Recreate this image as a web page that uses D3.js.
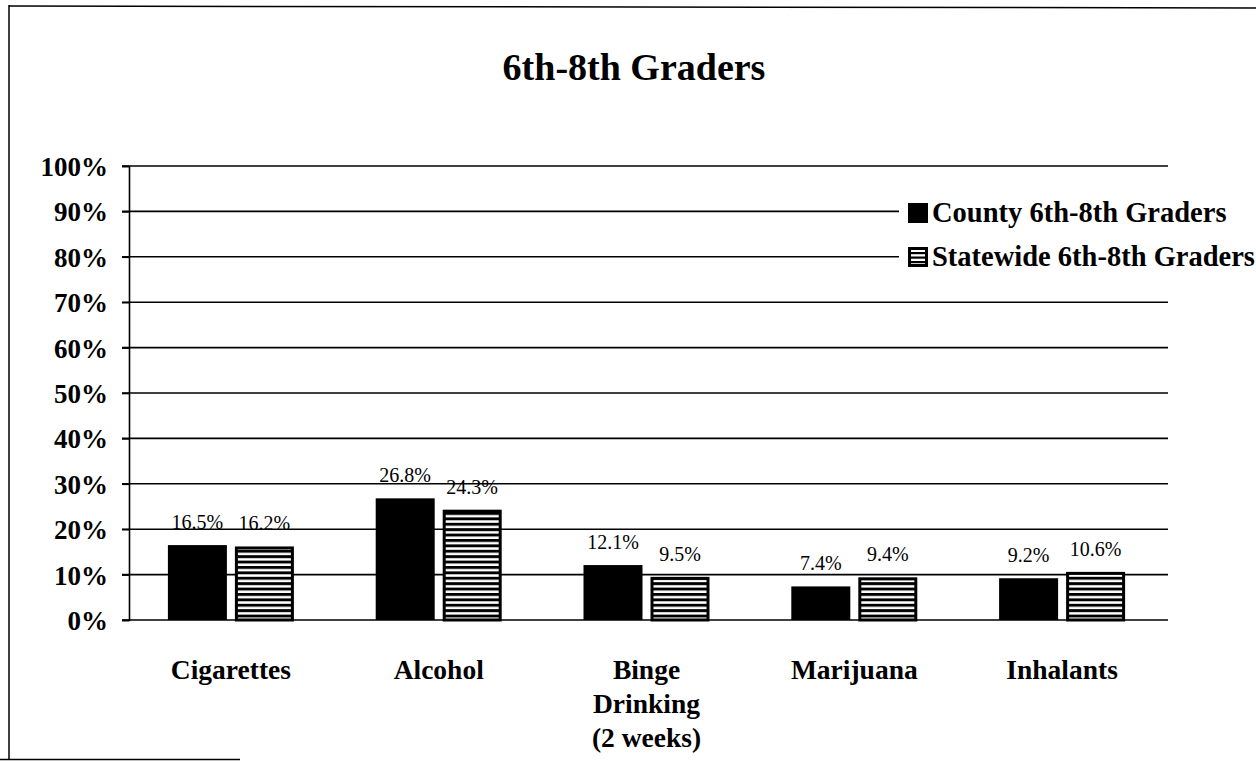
<!DOCTYPE html>
<html>
<head>
<meta charset="utf-8">
<script src="https://cdn.jsdelivr.net/npm/d3@7"></script>
<style>
  html, body { margin: 0; padding: 0; background: #fff; }
  svg { display: block; }
  text { font-family: "Liberation Serif", "Times New Roman", serif; fill: #000; }
</style>
</head>
<body>
<svg id="chart" width="1256" height="761"></svg>
<script>
// Survey results, percent of students reporting use
const categories = ["Cigarettes", "Alcohol", "Binge Drinking (2 weeks)", "Marijuana", "Inhalants"];
const categoryLines = [["Cigarettes"], ["Alcohol"], ["Binge", "Drinking", "(2 weeks)"], ["Marijuana"], ["Inhalants"]];
const seriesNames = ["County 6th-8th Graders", "Statewide 6th-8th Graders"];
const countyValues = [16.5, 26.8, 12.1, 7.4, 9.2];
const statewideValues = [16.2, 24.3, 9.5, 9.4, 10.6];
const yTicks = [0, 10, 20, 30, 40, 50, 60, 70, 80, 90, 100];

const svg = d3.select("#chart");
const W = 1256, H = 761;
const plot = { left: 129, right: 1168, top: 166, bottom: 620 };

// Outer frame (left, top and part of the bottom edge)
svg.append("line").attr("x1", 9).attr("x2", 9).attr("y1", 5).attr("y2", 760)
  .attr("stroke", "#000").attr("stroke-width", 1.5);
svg.append("line").attr("x1", 9).attr("x2", W).attr("y1", 6).attr("y2", 8)
  .attr("stroke", "#000").attr("stroke-width", 1.5);
svg.append("line").attr("x1", 0).attr("x2", 240).attr("y1", 759.5).attr("y2", 759.5)
  .attr("stroke", "#000").attr("stroke-width", 1.5);

// Horizontal stripe fill for the statewide series
const defs = svg.append("defs");
const pat = defs.append("pattern").attr("id", "stripes")
  .attr("patternUnits", "userSpaceOnUse").attr("width", 10).attr("height", 5.4)
  .attr("y", plot.bottom);
pat.append("rect").attr("width", 10).attr("height", 5.4).attr("fill", "#fff");
pat.append("rect").attr("width", 10).attr("height", 2.9).attr("fill", "#000");

const x = d3.scaleBand().domain(categories).range([plot.left, plot.right]).paddingInner(0.4).paddingOuter(0.2);
const y = d3.scaleLinear().domain([0, 100]).range([plot.bottom, plot.top]);

// Gridlines
svg.append("g").selectAll("line").data(yTicks).join("line")
  .attr("x1", plot.left - 7).attr("x2", plot.right)
  .attr("y1", d => y(d)).attr("y2", d => y(d))
  .attr("stroke", "#000").attr("stroke-width", 1.6);

// Y axis
const yAxis = d3.axisLeft(y).tickValues(yTicks).tickSize(7).tickPadding(14).tickFormat(d => d + "%");
const yg = svg.append("g").attr("transform", `translate(${plot.left},0)`).call(yAxis);
yg.select(".domain").attr("stroke", "#000").attr("stroke-width", 1.6);
yg.selectAll(".tick line").attr("stroke", "#000").attr("stroke-width", 1.6);
yg.selectAll(".tick text")
  .style("font-family", "'Liberation Serif', 'Times New Roman', serif")
  .style("font-weight", "bold").style("font-size", "27px").attr("fill", "#000")
  .attr("dy", "0.35em");

// Bars
const gap = 8;
const barW = 59;
const groups = svg.append("g").selectAll("g").data(categories).join("g");
const center = c => x(c) + x.bandwidth() / 2 - 2;

groups.append("rect")
  .attr("x", (c) => center(c) - gap / 2 - barW)
  .attr("y", (c, i) => y(countyValues[i]))
  .attr("width", barW)
  .attr("height", (c, i) => y(0) - y(countyValues[i]))
  .attr("fill", "#000");

groups.append("rect")
  .attr("x", (c) => center(c) + gap / 2 + 1.5)
  .attr("y", (c, i) => y(statewideValues[i]) + 1.5)
  .attr("width", barW - 3)
  .attr("height", (c, i) => y(0) - y(statewideValues[i]) - 1.5)
  .attr("fill", "url(#stripes)")
  .attr("stroke", "#000").attr("stroke-width", 3);

// Value labels
groups.append("text")
  .attr("x", c => center(c) - gap / 2 - barW / 2)
  .attr("y", (c, i) => y(countyValues[i]) - 16)
  .attr("text-anchor", "middle").style("font-size", "20px")
  .text((c, i) => countyValues[i].toFixed(1) + "%");

groups.append("text")
  .attr("x", c => center(c) + gap / 2 + barW / 2)
  .attr("y", (c, i) => y(statewideValues[i]) - 16)
  .attr("text-anchor", "middle").style("font-size", "20px")
  .text((c, i) => statewideValues[i].toFixed(1) + "%");

// Category labels
groups.append("text")
  .attr("text-anchor", "middle")
  .style("font-size", "27.5px").style("font-weight", "bold")
  .each(function (c, i) {
    const t = d3.select(this);
    categoryLines[i].forEach((line, k) => {
      t.append("tspan").attr("x", center(c)).attr("y", 679 + k * 34).text(line);
    });
  });

// Title
svg.append("text").attr("x", 634).attr("y", 80).attr("text-anchor", "middle")
  .style("font-size", "38px").style("font-weight", "bold").text("6th-8th Graders");

// Legend
const lg = svg.append("g");
lg.append("rect").attr("x", 899).attr("y", 190).attr("width", 360).attr("height", 92).attr("fill", "#fff");
lg.append("rect").attr("x", 908).attr("y", 203).attr("width", 20).attr("height", 20).attr("fill", "#000");
lg.append("rect").attr("x", 909.5).attr("y", 248.5).attr("width", 17).attr("height", 17)
  .attr("fill", "#fff").attr("stroke", "#000").attr("stroke-width", 3);
[252, 256.5, 261].forEach(yy => {
  lg.append("rect").attr("x", 910).attr("y", yy).attr("width", 16).attr("height", 2.2).attr("fill", "#000");
});
lg.selectAll("text.lbl").data(seriesNames).join("text").attr("class", "lbl")
  .attr("x", 932).attr("y", (d, i) => 222 + i * 44)
  .style("font-size", "28.5px").style("font-weight", "bold").text(d => d);
</script>
</body>
</html>
